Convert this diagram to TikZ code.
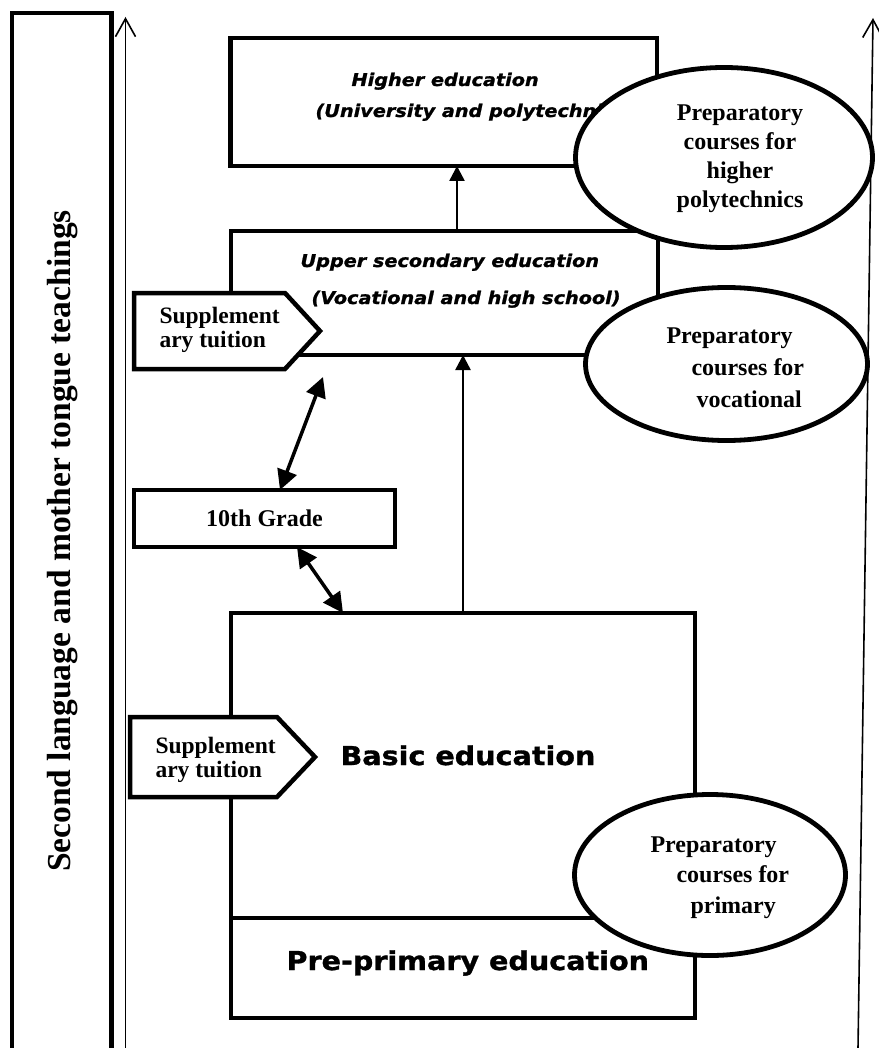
\documentclass[tikz,border=0pt]{standalone}
\usepackage{fontspec}
\setmainfont{Liberation Serif}
\newfontfamily\hsans{DejaVu Sans}[FakeStretch=1.1,FakeBold=1.2]
\usetikzlibrary{arrows.meta,shapes.geometric}
\begin{document}
\begin{tikzpicture}[x=1pt,y=-1pt,
  frame/.style={draw,line width=4.8pt,fill=white,inner sep=0pt,outer sep=0pt},
  oval/.style={ellipse,draw,line width=4.8pt,fill=white,inner sep=0pt,outer sep=0pt},
  penta/.style={draw,line width=4.5pt,fill=white,line join=miter},
  serifb/.style={font=\fontsize{24}{29}\selectfont\bfseries},
  suptext/.style={anchor=base west,align=left,font=\fontsize{23.5}{24}\selectfont\bfseries},
  sansit/.style={anchor=base west,font=\hsans\fontsize{17.5}{20}\selectfont\bfseries\itshape},
  sansbig/.style={anchor=base west,font=\hsans\fontsize{26}{30}\selectfont\bfseries},
  longarrow/.style={line width=1.6pt,-{Straight Barb[length=18pt,width=20pt]}},
  conn/.style={line width=2.5pt,-{Triangle[length=15pt,width=15pt]}},
  dbl/.style={line width=3.5pt,{Triangle[length=20pt,width=20pt]}-{Triangle[length=20pt,width=20pt]}}
]
\fill[white] (0,0) rectangle (878,1048);
\useasboundingbox (0,0) rectangle (878,1048);

% long arrows at both sides
\coordinate (lb) at (125.5,1048);
\coordinate (lt) at (125.5,17);
\coordinate (rb) at (858,1048);
\coordinate (rt) at (873,18);
\draw[longarrow] (lb) -- (lt);
\draw[longarrow] (rb) -- (rt);

% side bar
\draw[line width=4.8pt] (12,1048) -- (12,13) -- (111.5,13) -- (111.5,1048);
\node[rotate=90,font=\fontsize{33.5}{36}\selectfont\bfseries] (side) at (63,541) {Second language and mother tongue teachings};

% boxes
\node[frame,minimum width=426.5pt,minimum height=128pt] (higher) at (443.75,102) {};
\node[frame,minimum width=427pt,minimum height=124pt] (upper) at (444.5,293) {};
\node[frame,minimum width=464pt,minimum height=305pt] (basic) at (463,765.5) {};
\node[frame,minimum width=464pt,minimum height=100pt] (prep) at (463,968) {};
\node[frame,minimum width=261pt,minimum height=57pt,serifb] (grade) at (264.5,518.5) {10th Grade};

% box texts
\node[sansit] (higherA) at (348,86) {Higher education};
\node[sansit] (higherB) at (312,117) {(University and polytechnic)};
\node[sansit] (upperA) at (297,267) {Upper secondary education};
\node[sansit] (upperB) at (308,304) {(Vocational and high school)};
\node[sansbig] (basicT) at (337,765) {Basic education};
\node[sansbig] (prepT) at (283,970) {Pre-primary education};

% connectors
\draw[conn] ([xshift=12.5pt]upper.north) -- ([xshift=13.25pt]higher.south);
\draw[conn] (basic.north) -- ([xshift=18.5pt]upper.south);
\coordinate (d1top) at (323,377);
\draw[dbl] (d1top) -- ([xshift=15.5pt]grade.north);
\draw[dbl] ([xshift=32.5pt]grade.south) -- ([xshift=-120pt]basic.north);

% supplementary tuition tags
\draw[penta] (134,293) -- (285,293) -- (320,331) -- (285,369) -- (134,369) -- cycle;
\node[suptext] (sup1) at (156,347) {Supplement\\ary tuition};
\draw[penta] (130,717) -- (277,717) -- (315,757) -- (277,797) -- (130,797) -- cycle;
\node[suptext] (sup2) at (152,777) {Supplement\\ary tuition};

% preparatory ellipses
\node[oval,minimum width=297pt,minimum height=180pt] (e1) at (724,157.5) {};
\node[anchor=base,align=center,font=\fontsize{24}{29}\selectfont\bfseries] (e1T) at (740,208) {Preparatory\\courses for\\higher\\polytechnics};
\node[oval,minimum width=282pt,minimum height=153pt] (e2) at (726.5,364) {};
\node[anchor=base west,align=left,font=\fontsize{24}{32}\selectfont\bfseries] (e2T) at (663,407) {Preparatory\\\hspace*{25pt}courses for\\\hspace*{30pt}vocational};
\node[oval,minimum width=271pt,minimum height=161pt] (e3) at (710,875) {};
\node[anchor=base west,align=left,font=\fontsize{24}{30.5}\selectfont\bfseries] (e3T) at (647,913) {Preparatory\\\hspace*{26pt}courses for\\\hspace*{40pt}primary};
\end{tikzpicture}
\end{document}
